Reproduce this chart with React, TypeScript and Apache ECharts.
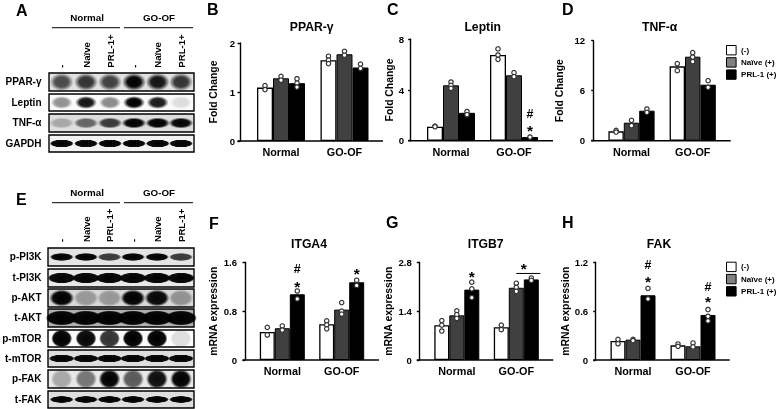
import React, { useEffect, useRef } from "react";
import * as echarts from "echarts";

const FONT = '"Liberation Sans", Arial, sans-serif';
const groups = ["Normal", "GO-OF"];
const seriesNames = ["(-)", "Naïve (+)", "PRL-1 (+)"];
const barColors = ["#ffffff", "#404040", "#000000"];
const swatchColors = ["#ffffff", "#808080", "#000000"];

// Panel B
const pparNeg = [1.09, 1.65];
const pparNaive = [1.28, 1.77];
const pparPrl = [1.18, 1.5];
const pparDots = [[[1.13, 1.05], [1.32, 1.24], [1.27, 1.18, 1.1]], [[1.73, 1.65, 1.58], [1.83, 1.75], [1.57, 1.48]]];
// Panel C
const leptinNeg = [1.1, 6.76];
const leptinNaive = [4.37, 5.16];
const leptinPrl = [2.2, 0.29];
const leptinDots = [[[1.15, 1.1], [4.63, 4.37, 4.13], [2.3, 2.05]], [[7.24, 6.76, 6.42], [5.37, 5.05], [0.29]]];
// Panel D
const tnfNeg = [1.12, 8.92];
const tnfNaive = [2.16, 10.08];
const tnfPrl = [3.6, 6.72];
const tnfDots = [[[1.24, 1.04], [2.44, 1.8], [3.8, 3.4]], [[9.24, 8.4], [10.56, 10.04, 9.48], [7.2, 6.4]]];
// Panel F
const itga4Neg = [0.46, 0.585];
const itga4Naive = [0.52, 0.825];
const itga4Prl = [1.076, 1.273];
const itga4Dots = [[[0.535, 0.41], [0.557, 0.49], [1.13, 1.0]], [[0.64, 0.574, 0.51], [0.94, 0.8, 0.75], [1.306, 1.22]]];
// Panel G
const itgb7Neg = [0.994, 0.937];
const itgb7Naive = [1.28, 2.07];
const itgb7Prl = [2.017, 2.31];
const itgb7Dots = [[[1.13, 1.0, 0.83], [1.41, 1.3, 1.19], [2.23, 2.04, 1.79]], [[1.0, 0.87], [2.2, 2.08, 1.97], [2.35, 2.28]]];
// Panel H
const fakNeg = [0.234, 0.18];
const fakNaive = [0.25, 0.168];
const fakPrl = [0.795, 0.553];
const fakDots = [[[0.254, 0.2], [0.254, 0.238], [0.88, 0.75]], [[0.197, 0.168], [0.209, 0.16], [0.62, 0.537, 0.48]]];

// Significance marks: [group, bar, value, glyph]
const leptinMarks: any[] = [[1, 2, 2.1, "#"], [1, 2, 1.08, "*"]];
const itga4Marks: any[] = [[0, 2, 1.49, "#"], [0, 2, 1.26, "*"], [1, 2, 1.46, "*"]];
const itgb7Marks: any[] = [[0, 2, 2.49, "*"], [1, 1.5, 2.72, "*"]];
const fakMarks: any[] = [[0, 2, 1.167, "#"], [0, 2, 1.007, "*"], [1, 2, 0.9, "#"], [1, 2, 0.75, "*"]];
const itgb7Bracket = [[1, 2.48]];

const panels: any[] = [
  { title: "PPAR-γ", name: "Fold Change", max: 2, bars: [pparNeg, pparNaive, pparPrl], dots: pparDots, marks: [], axisX: 240, endX: 383, top: 43, y0: 141, c0: 281, gap: 63.5, bw: 16, titleX: 311.7, titleY: 20.5, nameGap: 21.5, lm: 5 },
  { title: "Leptin", name: "Fold Change", max: 8, bars: [leptinNeg, leptinNaive, leptinPrl], dots: leptinDots, marks: leptinMarks, axisX: 410.7, endX: 553, top: 39.3, y0: 140.7, c0: 451, gap: 63, bw: 16, titleX: 482.7, titleY: 20.5, nameGap: 16.5, lm: 6.5 },
  { title: "TNF-α", name: "Fold Change", max: 12, bars: [tnfNeg, tnfNaive, tnfPrl], dots: tnfDots, marks: [], axisX: 593.7, endX: 730.7, top: 40.7, y0: 140.7, c0: 631.5, gap: 61.2, bw: 15.4, titleX: 659.7, titleY: 20.5, nameGap: 29.5, lm: 8.5 },
  { title: "ITGA4", name: "mRNA expression", max: 1.6, bars: [itga4Neg, itga4Naive, itga4Prl], dots: itga4Dots, marks: itga4Marks, axisX: 245, endX: 379, top: 262.3, y0: 360, c0: 282.3, gap: 59.4, bw: 15, titleX: 309, titleY: 238, nameGap: 26.5, lm: 8 },
  { title: "ITGB7", name: "mRNA expression", max: 2.8, bars: [itgb7Neg, itgb7Naive, itgb7Prl], dots: itgb7Dots, marks: itgb7Marks, axisX: 419.3, endX: 553.3, top: 262.3, y0: 360, c0: 456.8, gap: 59.5, bw: 15, titleX: 485.7, titleY: 238, nameGap: 25.5, lm: 7.5, bracket: itgb7Bracket },
  { title: "FAK", name: "mRNA expression", max: 1.2, bars: [fakNeg, fakNaive, fakPrl], dots: fakDots, marks: fakMarks, axisX: 595.7, endX: 729.7, top: 262.3, y0: 360, c0: 633, gap: 60, bw: 15, titleX: 659, titleY: 238, nameGap: 24, lm: 7.5 },
];

const letters = [["A", 16, 10], ["B", 207, 9], ["C", 387, 9], ["D", 562, 9], ["E", 16, 199.5], ["F", 209, 223], ["G", 386, 222.5], ["H", 562, 222.5]];
const laneLabels = ["-", "Naïve", "PRL-1+", "-", "Naïve", "PRL-1+"];
const laneA = [61.7, 86, 110, 134, 157.7, 181];
const laneE = [61.7, 86, 109.5, 133, 157, 181];

// Band darkness per lane, read from the blots
const blotPPAR = [0.68, 0.78, 0.72, 1, 0.92, 0.78];
const blotLeptin = [0.42, 0.92, 0.45, 1, 0.9, 0.12];
const blotTNF = [0.25, 0.55, 0.75, 1, 1, 0.98];
const blotGAPDH = [1, 1, 1, 1, 1, 1];
const blotPI3K = [1, 1, 0.75, 1, 1, 0.75];
const blotTPI3K = [1, 1, 1, 1, 1, 1];
const blotAKT = [1, 0.3, 0.3, 1, 0.98, 0.33];
const blotTAKT = [1, 1, 1, 1, 1, 1];
const blotMTOR = [1, 0.98, 0.8, 1, 1, 0.12];
const blotTMTOR = [1, 1, 1, 1, 1, 1];
const blotFAK = [0.28, 0.5, 1, 0.62, 0.95, 1];
const blotTFAK = [1, 1, 1, 1, 1, 1];

const rowsA: any[] = [
  { label: "PPAR-γ", t: 73, b: 91, bg: 225, w: 24, h: 18, core: 0.55, v: blotPPAR },
  { label: "Leptin", t: 94, b: 111, bg: 250, w: 22, h: 13, core: 0.6, v: blotLeptin },
  { label: "TNF-α", t: 114, b: 132, bg: 222, w: 25, h: 11, core: 0.65, v: blotTNF },
  { label: "GAPDH", t: 135, b: 152, bg: 242, w: 24, h: 8, core: 0.85, v: blotGAPDH },
];
const rowsE: any[] = [
  { label: "p-PI3K", t: 248, b: 266, bg: 228, w: 24, h: 8, core: 0.8, v: blotPI3K },
  { label: "t-PI3K", t: 269, b: 287, bg: 232, w: 28, h: 11, core: 0.85, v: blotTPI3K },
  { label: "p-AKT", t: 289, b: 307, bg: 215, w: 25, h: 17, core: 0.7, v: blotAKT },
  { label: "t-AKT", t: 309, b: 327, bg: 175, w: 32, h: 15, core: 0.85, v: blotTAKT },
  { label: "p-mTOR", t: 330, b: 347, bg: 252, w: 21, h: 18, core: 0.8, v: blotMTOR },
  { label: "t-mTOR", t: 350, b: 367, bg: 222, w: 26, h: 8, core: 0.85, v: blotTMTOR },
  { label: "p-FAK", t: 370, b: 388, bg: 232, w: 22, h: 20, core: 0.7, v: blotFAK },
  { label: "t-FAK", t: 391, b: 408, bg: 222, w: 24, h: 7, core: 0.85, v: blotTFAK },
];

function boldText(text: string, x: number, y: number, size: number, align = "left", extra: any = {}) {
  return { type: "text", x, y, z: 20, ...extra, style: { text, fill: "#000", fontFamily: FONT, fontWeight: "bold", fontSize: size, align, verticalAlign: "middle" } };
}

function blot(rows: any[], lanes: number[], frameL: number, frameR: number) {
  const out: any[] = [];
  rows.forEach((r) => {
    const g = r.bg;
    out.push({ type: "rect", z: 5, shape: { x: frameL, y: r.t, width: frameR - frameL, height: r.b - r.t }, style: { fill: `rgb(${g},${g},${g})` } });
    r.v.forEach((d: number, i: number) => {
      const cy = (r.t + r.b) / 2;
      out.push({
        type: "ellipse", z: 6,
        shape: { cx: lanes[i], cy, rx: r.w / 2, ry: r.h / 2 },
        style: {
          fill: {
            type: "radial", x: 0.5, y: 0.5, r: 0.5,
            colorStops: [
              { offset: 0, color: `rgba(0,0,0,${d})` },
              { offset: r.core, color: `rgba(0,0,0,${d * 0.95})` },
              { offset: 1, color: "rgba(0,0,0,0)" },
            ],
          },
        },
      });
    });
    out.push({ type: "rect", z: 7, shape: { x: frameL, y: r.t, width: frameR - frameL, height: r.b - r.t }, style: { fill: "none", stroke: "#000", lineWidth: 1.4 } });
    out.push(boldText(r.label, 41.5, (r.t + r.b) / 2 - 0.5, 10, "right"));
  });
  return out;
}

function blotHeader(lanes: number[], headY: number, lineY: number, bottom: number) {
  const out: any[] = [
    boldText("Normal", 87, headY, 9.8, "center"),
    boldText("GO-OF", 159, headY, 9.8, "center"),
    { type: "line", z: 20, shape: { x1: 52, y1: lineY, x2: 120, y2: lineY }, style: { stroke: "#000", lineWidth: 1 } },
    { type: "line", z: 20, shape: { x1: 124, y1: lineY, x2: 193, y2: lineY }, style: { stroke: "#000", lineWidth: 1 } },
  ];
  laneLabels.forEach((t, i) => out.push(boldText(t, lanes[i], bottom, 9.6, "left", { rotation: Math.PI / 2 })));
  return out;
}

export default function App() {
  const ref = useRef<HTMLDivElement>(null);
  useEffect(() => {
    document.body.style.margin = "0";
    const chart = echarts.init(ref.current!, undefined, { renderer: "svg" });
    const grid: any[] = [], xAxis: any[] = [], yAxis: any[] = [], series: any[] = [], title: any[] = [];
    const graphic: any[] = [];

    panels.forEach((p, k) => {
      const left = p.c0 - p.gap / 2;
      grid.push({ left, width: p.gap * 2, top: p.top, height: p.y0 - p.top, containLabel: false });
      xAxis.push({
        type: "category", gridIndex: k, data: groups,
        axisLine: { show: false }, axisTick: { show: false },
        axisLabel: { color: "#000", fontFamily: FONT, fontWeight: "bold", fontSize: 10.8, margin: 5.5 },
      });
      yAxis.push({
        type: "value", gridIndex: k, min: 0, max: p.max, interval: p.max / 2,
        offset: left - p.axisX, splitLine: { show: false },
        name: p.name, nameLocation: "middle", nameRotate: 90, nameGap: p.nameGap,
        nameTextStyle: { color: "#000", fontFamily: FONT, fontWeight: "bold", fontSize: 10.4 },
        axisLine: { show: true, lineStyle: { color: "#000", width: 1.4 } },
        axisTick: { show: true, length: 2.5, lineStyle: { color: "#000", width: 1.4 } },
        axisLabel: { color: "#000", fontFamily: FONT, fontWeight: "bold", fontSize: 9.6, margin: p.lm },
      });
      title.push({
        text: p.title, left: p.titleX, top: p.titleY, textAlign: "center",
        textStyle: { color: "#000", fontFamily: FONT, fontWeight: "bold", fontSize: 12.2 }, padding: 0,
      });
      p.bars.forEach((vals: number[], s: number) => {
        series.push({
          type: "bar", name: seriesNames[s], xAxisIndex: k, yAxisIndex: k, data: vals,
          barWidth: p.bw, barGap: 0, z: 2,
          itemStyle: { color: barColors[s], borderColor: "#000", borderWidth: s === 0 ? 1.3 : 1 },
        });
      });
      const dotData: number[][] = [];
      p.dots.forEach((grp: number[][], c: number) => grp.forEach((vals, s) => vals.forEach((v) => dotData.push([c, s, v]))));
      series.push({
        type: "custom", name: "replicates", xAxisIndex: k, yAxisIndex: k, data: dotData, z: 5, clip: false,
        encode: { x: 0, y: 2 },
        renderItem: (_: any, api: any) => {
          const pt = api.coord([api.value(0), api.value(2)]);
          return { type: "circle", shape: { cx: pt[0] + (api.value(1) - 1) * p.bw, cy: pt[1], r: 2.2 }, style: { fill: "#fff", stroke: "#333", lineWidth: 1.2 } };
        },
      });
      if (p.marks.length) {
        series.push({
          type: "custom", name: "significance", xAxisIndex: k, yAxisIndex: k, data: p.marks.map((m: any[]) => m.slice(0, 3)), z: 6, clip: false,
          encode: { x: 0, y: 2 },
          renderItem: (params: any, api: any) => {
            const pt = api.coord([api.value(0), api.value(2)]);
            const glyph = p.marks[params.dataIndex][3];
            return {
              type: "text",
              style: {
                text: glyph, x: pt[0] + (api.value(1) - 1) * p.bw, y: pt[1] + (glyph === "*" ? 3 : 0),
                align: "center", verticalAlign: "middle", fill: "#000", fontFamily: FONT, fontWeight: "bold", fontSize: glyph === "*" ? 15.5 : 12.5,
              },
            };
          },
        });
      }
      if (p.bracket) {
        series.push({
          type: "custom", name: "bracket", xAxisIndex: k, yAxisIndex: k, data: p.bracket, z: 6, clip: false,
          encode: { x: 0, y: 1 },
          renderItem: (_: any, api: any) => {
            const pt = api.coord([api.value(0), api.value(1)]);
            return { type: "line", shape: { x1: pt[0], y1: pt[1], x2: pt[0] + 1.5 * p.bw + 1.5, y2: pt[1] }, style: { stroke: "#000", lineWidth: 1 } };
          },
        });
      }
      graphic.push({ type: "line", z: 15, shape: { x1: p.axisX - 2.5, y1: p.y0, x2: p.endX, y2: p.y0 }, style: { stroke: "#000", lineWidth: 1.6 } });
    });

    letters.forEach(([t, x, y]: any) => {
      graphic.push({ type: "text", x, y, z: 20, style: { text: t, fill: "#000", fontFamily: FONT, fontWeight: "bold", fontSize: 16, align: "left", verticalAlign: "middle" } });
    });
    graphic.push(...blot(rowsA, laneA, 49, 194), ...blot(rowsE, laneE, 48, 194));
    graphic.push(...blotHeader(laneA, 17, 27.7, 67.7), ...blotHeader(laneE, 192, 202.7, 242));

    const legendBase = (left: number, top: number) => ({
      left, top, orient: "vertical", itemWidth: 9.6, itemHeight: 9.4, itemGap: 1.8, selectedMode: false, padding: 0, icon: "rect",
      textStyle: { color: "#000", fontFamily: FONT, fontWeight: "bold", fontSize: 8 },
      data: seriesNames.map((name, i) => ({ name, itemStyle: { color: swatchColors[i], borderColor: "#000", borderWidth: 1 } })),
    });

    chart.setOption({
      animation: false,
      backgroundColor: "#fff",
      title, grid, xAxis, yAxis, series,
      legend: [legendBase(726, 45), legendBase(726, 261.7)],
      graphic: { elements: graphic },
    });
    return () => chart.dispose();
  }, []);
  return <div ref={ref} style={{ position: "fixed", left: 0, top: 0, width: 778, height: 409, filter: "blur(0.35px)" }} />;
}
